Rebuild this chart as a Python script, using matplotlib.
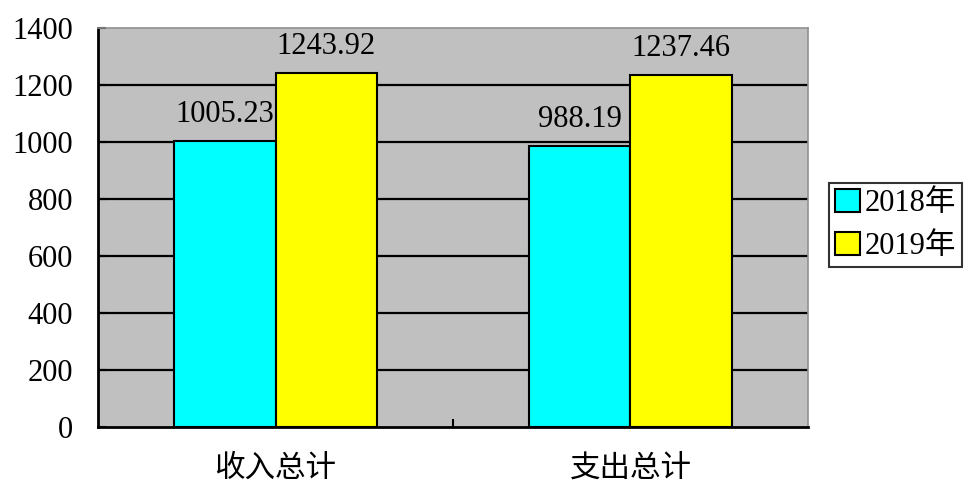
import numpy as np
import matplotlib.pyplot as plt

plt.rcParams['font.family'] = ['Liberation Serif', 'Noto Sans CJK SC', 'DejaVu Sans']

categories = ['收入总计', '支出总计']
series_names = ['2018年', '2019年']
values_2018 = [1005.23, 988.19]
values_2019 = [1243.92, 1237.46]
value_labels_2018 = ['1005.23', '988.19']
value_labels_2019 = ['1243.92', '1237.46']
yticks = [0, 200, 400, 600, 800, 1000, 1200, 1400]

colors = ['#00FFFF', '#FFFF00']

fig = plt.figure(figsize=(9.71, 4.87), dpi=100)
ax = fig.add_axes([0.101, 0.123, 0.731, 0.819])
ax.set_facecolor('#C0C0C0')

x = np.arange(len(categories))
w = 0.285

for y in yticks[1:-1]:
    ax.axhline(y, color='black', lw=1.6, zorder=1)

b1 = ax.bar(x - w / 2, values_2018, w, color=colors[0], edgecolor='black',
            lw=1.5, label=series_names[0], zorder=2)
b2 = ax.bar(x + w / 2, values_2019, w, color=colors[1], edgecolor='black',
            lw=1.5, label=series_names[1], zorder=2)

for rects, labels in ((b1, value_labels_2018), (b2, value_labels_2019)):
    for r, t in zip(rects, labels):
        ax.text(r.get_x() + r.get_width() / 2, r.get_height() + 42, t,
                ha='center', va='bottom', fontsize=22)

ax.set_xlim(-0.5, 1.5)
ax.set_ylim(0, 1400)
ax.set_yticks(yticks)
ax.set_yticklabels([str(v) for v in yticks], fontsize=22)
ax.set_xticks([0.5])
ax.set_xticklabels([''])
ax.tick_params(axis='y', direction='in', length=6, width=1.5, pad=18)
ax.tick_params(axis='x', direction='in', length=6, width=1.5)
ax.set_xticks(x, minor=True)
ax.set_xticklabels(categories, minor=True, fontsize=22)
ax.tick_params(axis='x', which='minor', length=0, pad=20)

for s in ['left', 'bottom']:
    ax.spines[s].set_color('black')
    ax.spines[s].set_linewidth(2)
for s in ['top', 'right']:
    ax.spines[s].set_color('#909090')
    ax.spines[s].set_linewidth(1.2)

leg = fig.legend(loc='center left', bbox_to_anchor=(0.854, 0.538), fontsize=22,
                 frameon=True, fancybox=False, edgecolor='black',
                 handlelength=0.8, handleheight=0.8, handletextpad=0.15,
                 borderpad=0.2, labelspacing=0.45, borderaxespad=0)
leg.get_frame().set_linewidth(1.5)

fig.savefig('out.png', dpi=100)
